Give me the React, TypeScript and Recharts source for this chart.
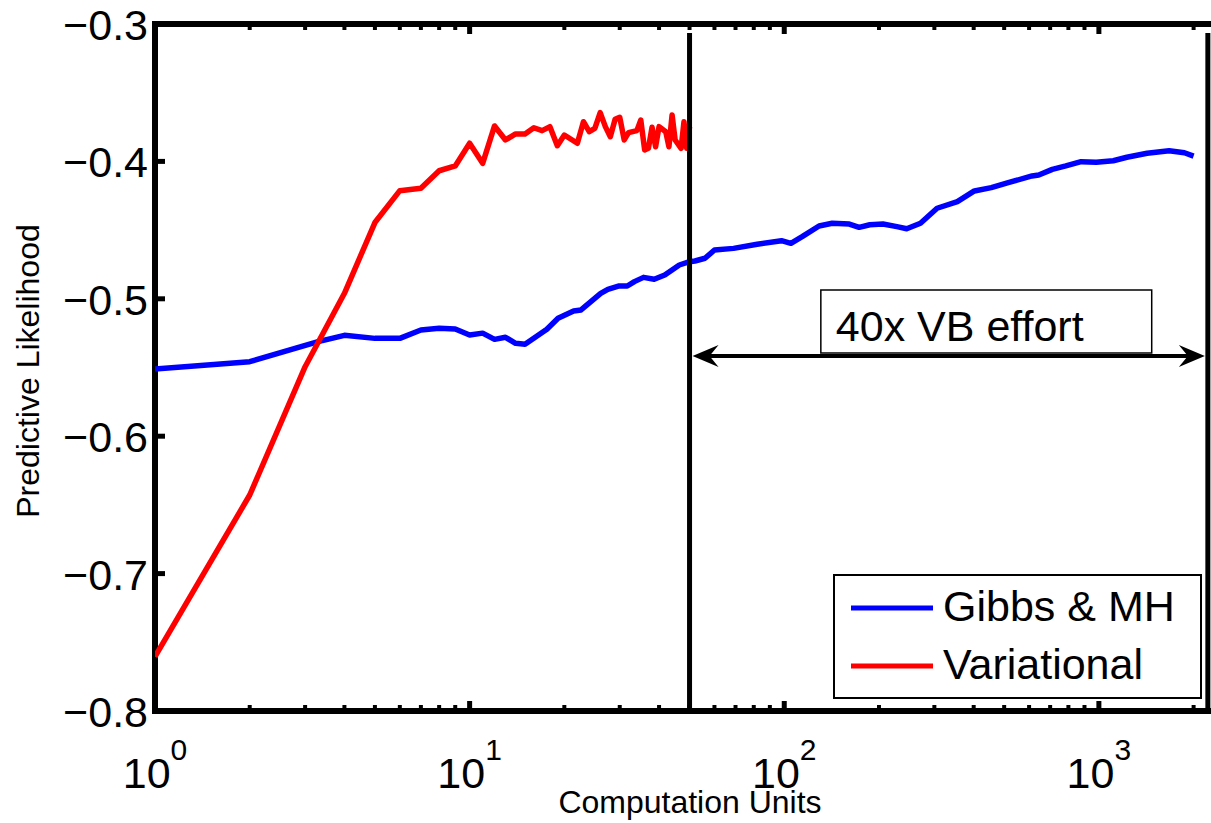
import {
  Legend,
  Line,
  LineChart,
  ReferenceArea,
  ReferenceLine,
  XAxis,
  YAxis,
} from "recharts";

const FONT = '"Liberation Sans", Arial, Helvetica, sans-serif';

// Gibbs & MH sampler: predictive likelihood vs. computation units
const gibbsX = [
  1, 2, 3.3, 4, 5, 6, 7, 8, 9, 10, 11, 12, 13, 14, 15, 17.6, 19.1, 21.4, 22.6, 26.1,
  27.5, 29.7, 31.7, 33.4, 35.7, 38.6, 41.7, 46.4, 50, 52, 56, 60, 69, 82, 98, 105,
  114, 129, 142, 161, 173, 187, 206, 228, 245, 271, 306, 355, 402, 455, 515, 613,
  644, 711, 785, 878, 981, 1111, 1227, 1423, 1672, 1870, 2000,
];
const gibbsY = [
  -0.5511, -0.5458, -0.5312, -0.5266, -0.5288, -0.5288, -0.5227, -0.5215, -0.522,
  -0.5263, -0.525, -0.5295, -0.528, -0.5324, -0.5331, -0.5222, -0.5142, -0.5089,
  -0.5081, -0.496, -0.4931, -0.4907, -0.4907, -0.4875, -0.4844, -0.4858, -0.4827,
  -0.4754, -0.473, -0.4725, -0.4705, -0.4645, -0.4633, -0.4603, -0.4577, -0.4596,
  -0.4548, -0.447, -0.445, -0.4456, -0.448, -0.4461, -0.4456, -0.4475, -0.449,
  -0.445, -0.4341, -0.4293, -0.4215, -0.4191, -0.4155, -0.4106, -0.4099, -0.4058,
  -0.4033, -0.4002, -0.4007, -0.3995, -0.397, -0.3941, -0.3922, -0.3937, -0.3961,
];

// Variational Bayes
const vbX = [
  1, 2, 3, 4, 5, 6, 7, 8, 9, 10, 11, 12, 13, 14, 15, 16, 17, 18, 19, 20, 22, 23, 24,
  25, 26, 27, 28, 29, 30, 31, 32, 34, 35, 36, 37, 38, 39, 40, 42, 43, 44, 45, 47, 48,
  49, 50,
];
const vbY = [
  -0.7605, -0.6428, -0.5494, -0.496, -0.4445, -0.4213, -0.4196, -0.4068, -0.4033,
  -0.3868, -0.4014, -0.3742, -0.3844, -0.38, -0.38, -0.3755, -0.3776, -0.3747,
  -0.3886, -0.3808, -0.3868, -0.3711, -0.3784, -0.376, -0.3645, -0.3747, -0.382,
  -0.3694, -0.3679, -0.3844, -0.3791, -0.3776, -0.3699, -0.3917, -0.3905, -0.3752,
  -0.3893, -0.3747, -0.3784, -0.3893, -0.3662, -0.3844, -0.3905, -0.3711, -0.3905,
  -0.3747,
];

const xMajorTicks = [1, 10, 100, 1000];
const xMinorTicks = [
  2, 3, 4, 5, 6, 7, 8, 9, 20, 30, 40, 50, 60, 70, 80, 90, 200, 300, 400, 500, 600,
  700, 800, 900, 2000,
];
const yTicks = [-0.8, -0.7, -0.6, -0.5, -0.4, -0.3];

const X_DOMAIN: [number, number] = [1, 3000];
const Y_DOMAIN: [number, number] = [-0.8, -0.3];

// markers for the VB budget and the 40x range
const vbBudget = 50;
const gibbsBudget = 2220;
const markerTop = -0.3065;
const effortY = -0.5416;
const effortBox = { x1: 130.7, x2: 1472, y1: -0.5394, y2: -0.4936 };

const gibbsData = gibbsX.map((x, i) => ({ x, y: gibbsY[i] }));
const vbData = vbX.map((x, i) => ({ x, y: vbY[i] }));

const xTickShape = (len: number, w: number) => (p: any) => {
  const top = Math.min(p.y1, p.y2);
  const bottom = Math.max(p.y1, p.y2);
  return (
    <g>
      <line x1={p.x1} x2={p.x1} y1={bottom} y2={bottom - len} stroke="#000" strokeWidth={w} />
      <line x1={p.x1} x2={p.x1} y1={top} y2={top + len} stroke="#000" strokeWidth={w} />
    </g>
  );
};

const yTickShape = (len: number, w: number) => (p: any) => {
  const left = Math.min(p.x1, p.x2);
  const right = Math.max(p.x1, p.x2);
  return (
    <g>
      <line x1={left} x2={left + len} y1={p.y1} y2={p.y1} stroke="#000" strokeWidth={w} />
      <line x1={right} x2={right - len} y1={p.y1} y2={p.y1} stroke="#000" strokeWidth={w} />
    </g>
  );
};

// vertical marker from the bottom of the axes up to markerTop
const dividerShape = (p: any) => {
  const top = Math.min(p.y1, p.y2);
  const bottom = Math.max(p.y1, p.y2);
  const frac = (Y_DOMAIN[1] - markerTop) / (Y_DOMAIN[1] - Y_DOMAIN[0]);
  const yTop = top + frac * (bottom - top);
  return <line x1={p.x1} x2={p.x1} y1={bottom} y2={yTop} stroke="#000" strokeWidth={5} />;
};

const renderArrow = (p: any) => {
  const y = p.y1;
  const l = Math.min(p.x1, p.x2) + 3;
  const r = Math.max(p.x1, p.x2) - 3;
  return (
    <g>
      <line x1={l + 10} x2={r - 10} y1={y} y2={y} stroke="#000" strokeWidth={4} />
      <path d={`M${l},${y} L${l + 26},${y - 11} L${l + 17},${y} L${l + 26},${y + 11} Z`} fill="#000" />
      <path d={`M${r},${y} L${r - 26},${y - 11} L${r - 17},${y} L${r - 26},${y + 11} Z`} fill="#000" />
    </g>
  );
};

const renderXTick = (props: any) => {
  const { x, y, payload } = props;
  const exp = Math.round(Math.log10(payload.value));
  return (
    <text x={x} y={y + 77} textAnchor="middle" fontSize={43} fontFamily={FONT} fill="#000">
      <tspan>10</tspan>
      <tspan dy={-28} fontSize={30}>
        {exp}
      </tspan>
    </text>
  );
};

const renderYTick = (props: any) => {
  const { x, y, payload } = props;
  const label = "\u2212" + Math.abs(payload.value).toFixed(1);
  return (
    <text x={x - 7} y={y + 16} textAnchor="end" fontSize={43} fontFamily={FONT} fill="#000">
      {label}
    </text>
  );
};

const renderXLabel = (props: any) => {
  const { viewBox } = props;
  return (
    <text x={viewBox.x + 535} y={viewBox.y + 102} textAnchor="middle" fontSize={32} fontFamily={FONT} fill="#000">
      Computation Units
    </text>
  );
};

const renderYLabel = (props: any) => {
  const { viewBox } = props;
  const cx = viewBox.x + 31;
  const cy = viewBox.y + 347;
  return (
    <text
      x={cx}
      y={cy}
      transform={`rotate(-90 ${cx} ${cy})`}
      textAnchor="middle"
      fontSize={32}
      fontFamily={FONT}
      fill="#000"
    >
      Predictive Likelihood
    </text>
  );
};

const renderEffortLabel = (props: any) => {
  const { viewBox } = props;
  return (
    <text x={viewBox.x + 15} y={viewBox.y + 51} fontSize={43} fontFamily={FONT} fill="#000">
      40x VB effort
    </text>
  );
};

const renderLegend = (props: any) => {
  const payload = props.payload ?? [];
  return (
    <div
      style={{
        width: 369,
        height: 125,
        border: "2px solid #000",
        background: "#fff",
        boxSizing: "border-box",
      }}
    >
      <svg width={365} height={121}>
        {payload.map((entry: any, i: number) => (
          <g key={entry.value}>
            <line x1={16} x2={98} y1={32 + i * 58} y2={32 + i * 58} stroke={entry.color} strokeWidth={5} />
            <text x={108} y={45 + i * 58} fontSize={43} fontFamily={FONT} fill="#000">
              {entry.value}
            </text>
          </g>
        ))}
      </svg>
    </div>
  );
};

export default function App() {
  // the axes box runs past the right edge of the page, so the wrapper clips it
  return (
    <div
      style={{
        position: "absolute",
        left: 8,
        top: 8,
        width: 1203,
        height: 815,
        overflow: "hidden",
        background: "#fff",
        fontFamily: FONT,
      }}
    >
      <LineChart width={1241} height={815} margin={{ top: 16, right: 0, bottom: 0, left: 0 }}>
        <XAxis
          type="number"
          scale="log"
          dataKey="x"
          domain={X_DOMAIN}
          allowDataOverflow
          ticks={xMajorTicks}
          interval={0}
          tickSize={0}
          tickMargin={0}
          axisLine={false}
          tickLine={false}
          height={112}
          tick={renderXTick}
          label={renderXLabel}
        />
        <YAxis
          type="number"
          domain={Y_DOMAIN}
          allowDataOverflow
          ticks={yTicks}
          interval={0}
          width={147}
          tickSize={0}
          tickMargin={0}
          axisLine={false}
          tickLine={false}
          tick={renderYTick}
          label={renderYLabel}
        />
        <ReferenceArea
          x1={effortBox.x1}
          x2={effortBox.x2}
          y1={effortBox.y1}
          y2={effortBox.y2}
          fill="#fff"
          fillOpacity={1}
          stroke="#000"
          strokeWidth={1.5}
          label={renderEffortLabel}
        />
        <Line
          data={gibbsData}
          dataKey="y"
          name="Gibbs & MH"
          type="linear"
          stroke="#0000ff"
          strokeWidth={5.5}
          strokeLinejoin="round"
          dot={false}
          activeDot={false}
          isAnimationActive={false}
        />
        <Line
          data={vbData}
          dataKey="y"
          name="Variational"
          type="linear"
          stroke="#ff0000"
          strokeWidth={5.5}
          strokeLinejoin="round"
          dot={false}
          activeDot={false}
          isAnimationActive={false}
        />
        <ReferenceLine x={vbBudget} shape={dividerShape} />
        <ReferenceLine x={gibbsBudget} shape={dividerShape} />
        <ReferenceLine
          segment={[
            { x: vbBudget, y: effortY },
            { x: gibbsBudget, y: effortY },
          ]}
          shape={renderArrow}
        />
        {xMinorTicks.map((t) => (
          <ReferenceLine key={`xm${t}`} x={t} shape={xTickShape(6, 4)} />
        ))}
        {xMajorTicks.map((t) => (
          <ReferenceLine key={`xM${t}`} x={t} shape={xTickShape(10, 5)} />
        ))}
        {yTicks.map((t) => (
          <ReferenceLine key={`y${t}`} y={t} shape={yTickShape(10, 5)} />
        ))}
        <ReferenceArea
          x1={X_DOMAIN[0]}
          x2={X_DOMAIN[1]}
          y1={Y_DOMAIN[0]}
          y2={Y_DOMAIN[1]}
          fill="none"
          stroke="#000"
          strokeWidth={6}
        />
        <Legend
          layout="vertical"
          align="center"
          verticalAlign="middle"
          content={renderLegend}
          wrapperStyle={{ left: 825, top: 566, width: 369, height: 125 }}
        />
      </LineChart>
    </div>
  );
}
